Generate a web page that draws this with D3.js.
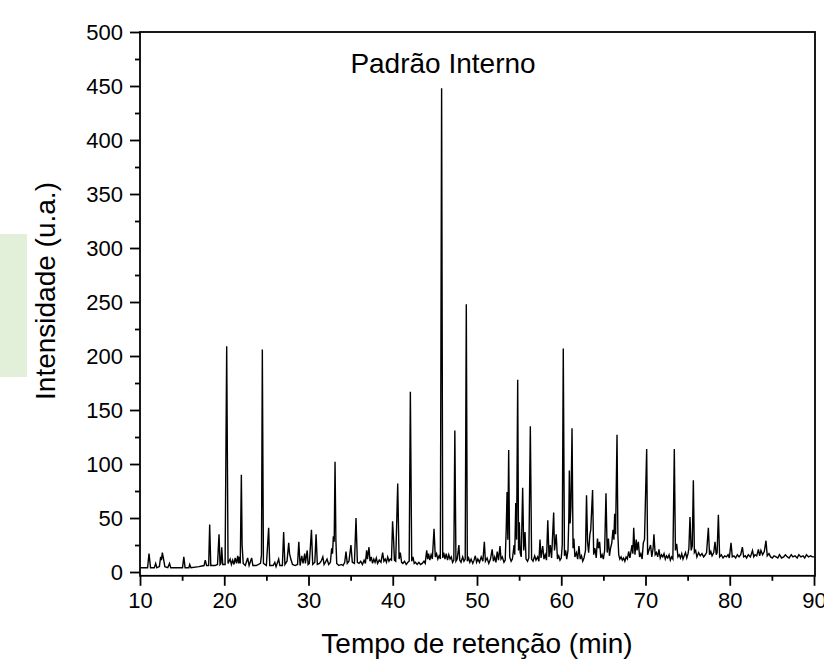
<!DOCTYPE html>
<html>
<head>
<meta charset="utf-8">
<script src="https://cdn.jsdelivr.net/npm/d3@7"></script>
<style>
  body { margin: 0; background: #fff; }
  text { font-family: "Liberation Sans", Arial, sans-serif; fill: #000; }
</style>
</head>
<body>
<div class="chart"></div>
<script>
// chromatogram, [time (min), intensity (u.a.)]
const run10to30 = [
  [10.0,4],[10.5,4],[10.9,4],[11.07,17],[11.25,4],[11.7,4],[11.86,8],[12.0,4],[12.3,5],[12.45,14],
  [12.55,11],[12.65,18],[12.8,12],[12.95,5],[13.3,4],[13.5,8],[13.65,4],[14.5,4],[15.05,4],[15.2,14],
  [15.35,4],[15.8,4],[15.9,7],[16.05,4],[17.0,5],[17.6,6],[17.75,11],[17.9,6],[18.15,6],[18.27,44],
  [18.4,6],[18.9,6],[19.2,7],[19.38,35],[19.5,7],[19.6,8],[19.7,23],[19.82,7],[20.1,7],[20.29,209],
  [20.45,8],[20.7,12],[20.85,7],[21.0,11],[21.15,7],[21.3,13],[21.45,8],[21.6,15],[21.7,8],[21.8,14],
  [21.9,8],[22.03,90],[22.12,25],[22.25,8],[22.5,6],[22.78,13],[22.95,6],[23.25,13],[23.4,6],[23.8,6],
  [24.3,8],[24.42,16],[24.52,206],[24.65,8],[25.0,6],[25.27,41],[25.4,6],[25.8,6],[26.0,9],[26.15,5],
  [26.46,12],[26.6,6],[26.9,6],[27.05,37],[27.2,7],[27.45,10],[27.65,27],[27.75,17],[27.9,12],[28.1,7],
  [28.4,6],[28.7,7],[28.85,28],[29.0,6],[29.2,15],[29.35,8],[29.55,17],[29.63,8],[29.85,20],[29.95,7]
];

const run30to50 = [
  [30.1,8],[30.35,39],[30.5,7],[30.75,9],[30.9,35],[31.05,7],[31.3,8],[31.5,10],[31.7,14],[31.85,7],
  [32.0,9],[32.2,12],[32.4,7],[32.6,9],[32.75,22],[32.85,17],[32.95,33],[33.05,28],[33.15,102],[33.25,30],
  [33.35,8],[33.6,6],[33.9,7],[34.1,6],[34.3,9],[34.45,19],[34.6,8],[34.8,10],[35.04,25],[35.2,9],
  [35.45,8],[35.64,50],[35.8,9],[36.0,8],[36.2,10],[36.4,7],[36.6,11],[36.75,8],[36.9,20],[37.0,12],
  [37.18,23],[37.3,10],[37.45,14],[37.6,8],[37.75,12],[37.9,9],[38.05,13],[38.2,8],[38.4,11],[38.6,9],
  [38.8,18],[38.95,10],[39.1,12],[39.25,9],[39.4,14],[39.55,10],[39.7,12],[39.85,11],[39.98,47],[40.1,30],
  [40.2,11],[40.35,10],[40.59,82],[40.75,12],[40.9,18],[41.05,9],[41.2,8],[41.4,10],[41.6,7],[41.8,9],
  [41.95,10],[42.09,167],[42.25,10],[42.4,14],[42.55,8],[42.7,9],[42.9,7],[43.1,9],[43.3,7],[43.5,8],
  [43.7,10],[43.85,8],[44.03,20],[44.15,12],[44.25,17],[44.4,11],[44.55,16],[44.7,12],[44.9,40],[45.05,14],
  [45.2,17],[45.35,12],[45.5,15],[45.65,12],[45.8,448],[45.93,13],[46.05,18],[46.2,12],[46.35,17],[46.5,11],
  [46.65,16],[46.8,12],[46.95,14],[47.1,9],[47.25,11],[47.37,131],[47.5,10],[47.65,12],[47.85,25],[47.95,11],
  [48.1,9],[48.3,14],[48.45,10],[48.6,12],[48.73,248],[48.85,10],[49.0,13],[49.15,9],[49.3,12],[49.5,8],
  [49.65,11],[49.8,15],[49.95,9]
];

const run50to70 = [
  [50.1,12],[50.3,9],[50.5,14],[50.7,10],[50.87,28],[51.0,10],[51.2,13],[51.4,8],[51.6,12],[51.8,21],
  [51.95,10],[52.1,14],[52.25,9],[52.4,19],[52.55,11],[52.73,24],[52.85,12],[53.0,14],[53.2,9],[53.35,11],
  [53.47,40],[53.57,74],[53.66,30],[53.76,113],[53.88,14],[54.05,10],[54.2,12],[54.4,25],[54.48,16],[54.6,64],
  [54.7,30],[54.83,178],[54.93,20],[55.02,46],[55.12,18],[55.25,14],[55.42,78],[55.55,20],[55.7,37],[55.82,12],
  [56.0,10],[56.15,13],[56.33,135],[56.48,12],[56.65,10],[56.85,15],[57.0,11],[57.2,14],[57.35,10],[57.48,30],
  [57.6,13],[57.8,24],[57.95,12],[58.1,16],[58.25,11],[58.4,48],[58.55,14],[58.7,25],[58.85,13],[59.1,55],
  [59.2,20],[59.4,35],[59.55,12],[59.7,15],[59.85,11],[60.0,13],[60.12,25],[60.24,207],[60.38,15],[60.52,20],
  [60.65,12],[60.8,20],[60.9,50],[60.96,94],[61.05,45],[61.15,60],[61.28,133],[61.4,22],[61.5,31],[61.62,14],
  [61.8,18],[61.95,12],[62.1,24],[62.25,12],[62.4,15],[62.55,10],[62.7,13],[62.88,20],[63.0,71],[63.12,28],
  [63.25,18],[63.4,35],[63.5,39],[63.72,76],[63.85,16],[64.0,22],[64.15,13],[64.3,31],[64.42,22],[64.55,28],
  [64.7,13],[64.85,16],[65.0,12],[65.15,20],[65.31,73],[65.45,18],[65.6,31],[65.72,15],[65.85,22],[66.0,27],
  [66.14,39],[66.25,30],[66.34,54],[66.45,35],[66.62,127],[66.72,35],[66.82,16],[66.95,12],[67.1,14],[67.25,11],
  [67.4,13],[67.55,10],[67.7,14],[67.85,12],[68.0,19],[68.15,13],[68.4,25],[68.5,17],[68.6,41],[68.75,16],
  [68.9,30],[69.0,20],[69.15,28],[69.3,14],[69.45,17],[69.6,12],[69.74,27],[69.88,30],[69.98,62],[70.14,114]
];

const run70to90 = [
  [70.25,16],[70.4,20],[70.6,25],[70.75,14],[70.9,22],[71.0,35],[71.15,16],[71.3,18],[71.45,14],[71.6,21],
  [71.75,13],[71.9,16],[72.05,14],[72.2,17],[72.35,12],[72.5,15],[72.65,13],[72.8,16],[72.95,11],[73.1,14],
  [73.25,12],[73.42,114],[73.55,20],[73.7,26],[73.85,14],[74.0,16],[74.15,13],[74.3,17],[74.45,12],[74.6,15],
  [74.75,18],[74.9,13],[75.05,17],[75.15,22],[75.28,51],[75.42,20],[75.55,24],[75.68,85],[75.8,18],[75.95,20],
  [76.1,14],[76.3,18],[76.5,15],[76.7,17],[76.9,14],[77.1,16],[77.25,18],[77.46,41],[77.6,16],[77.75,19],
  [77.9,15],[78.1,18],[78.25,28],[78.4,16],[78.5,18],[78.65,53],[78.8,14],[79.0,16],[79.2,13],[79.4,15],
  [79.6,14],[79.8,16],[79.95,13],[80.15,27],[80.3,14],[80.5,15],[80.7,13],[80.9,16],[81.1,14],[81.3,16],
  [81.5,23],[81.65,14],[81.85,15],[82.0,13],[82.2,16],[82.45,14],[82.7,20],[82.85,14],[83.0,16],[83.2,15],
  [83.4,21],[83.55,15],[83.7,20],[83.9,16],[84.1,19],[84.3,29],[84.45,15],[84.65,17],[84.85,14],[85.05,13],
  [85.25,15],[85.5,14],[85.7,13],[85.9,16],[86.15,13],[86.4,14],[86.6,16],[86.85,14],[87.05,13],[87.3,16],
  [87.5,14],[87.75,15],[88.0,13],[88.2,16],[88.45,14],[88.7,15],[88.9,13],[89.1,16],[89.35,14],[89.6,15],
  [89.8,14],[90.0,14]
];

const xTicks = [10, 20, 30, 40, 50, 60, 70, 80, 90];
const xMinorTicks = [15, 25, 35, 45, 55, 65, 75, 85];
const yTicks = [0, 50, 100, 150, 200, 250, 300, 350, 400, 450, 500];
const yMinorTicks = [25, 75, 125, 175, 225, 275, 325, 375, 425, 475];

const chromatogram = run10to30.concat(run30to50, run50to70, run70to90);

// chart setup
const svgWidth = 824;
const svgHeight = 659;
const plot = {left: 140, right: 814, top: 32, bottom: 575.8};

const svg = d3.select(".chart")
  .append("svg")
  .attr("width", svgWidth)
  .attr("height", svgHeight);

// pale green patch on the left edge
svg.append("rect")
  .attr("x", 0).attr("y", 234)
  .attr("width", 27).attr("height", 143)
  .attr("fill", "#e2efd9");

const x = d3.scaleLinear().domain([10, 90]).range([plot.left, plot.right]);
const y = d3.scaleLinear().domain([-3.5, 500]).range([plot.bottom, plot.top]);

// axes
const xAxis = svg.append("g")
  .attr("transform", `translate(0,${plot.bottom})`)
  .call(d3.axisBottom(x).tickValues(xTicks).tickSize(10).tickPadding(7).tickFormat(d3.format("d")));
const xMinor = svg.append("g")
  .attr("transform", `translate(0,${plot.bottom})`)
  .call(d3.axisBottom(x).tickValues(xMinorTicks).tickSize(5).tickFormat(""));

const yAxis = svg.append("g")
  .attr("transform", `translate(${plot.left},0)`)
  .call(d3.axisLeft(y).tickValues(yTicks).tickSize(10).tickPadding(7).tickFormat(d3.format("d")));
const yMinor = svg.append("g")
  .attr("transform", `translate(${plot.left},0)`)
  .call(d3.axisLeft(y).tickValues(yMinorTicks).tickSize(5).tickFormat(""));

[xAxis, xMinor, yAxis, yMinor].forEach(g => {
  g.select(".domain").remove();
  g.selectAll("line").attr("stroke", "#000").attr("stroke-width", 1.8);
  g.selectAll("text")
    .style("font-family", '"Liberation Sans", Arial, sans-serif')
    .style("font-size", "22px")
    .attr("fill", "#000");
});

// data line
svg.append("path")
  .datum(chromatogram)
  .attr("fill", "none")
  .attr("stroke", "#000")
  .attr("stroke-width", 1.4)
  .attr("d", d3.line().x(d => x(d[0])).y(d => y(d[1])));

// frame
svg.append("rect")
  .attr("x", plot.left).attr("y", plot.top)
  .attr("width", plot.right + 1 - plot.left)
  .attr("height", plot.bottom - plot.top)
  .attr("fill", "none")
  .attr("stroke", "#000")
  .attr("stroke-width", 1.8);

// labels
svg.append("text")
  .attr("x", 443).attr("y", 73)
  .attr("text-anchor", "middle")
  .style("font-size", "28px")
  .text("Padrão Interno");

svg.append("text")
  .attr("x", 477).attr("y", 653)
  .attr("text-anchor", "middle")
  .style("font-size", "28px")
  .text("Tempo de retenção (min)");

svg.append("text")
  .attr("transform", "rotate(-90)")
  .attr("x", -291).attr("y", 55)
  .attr("text-anchor", "middle")
  .style("font-size", "28px")
  .text("Intensidade (u.a.)");
</script>
</body>
</html>
